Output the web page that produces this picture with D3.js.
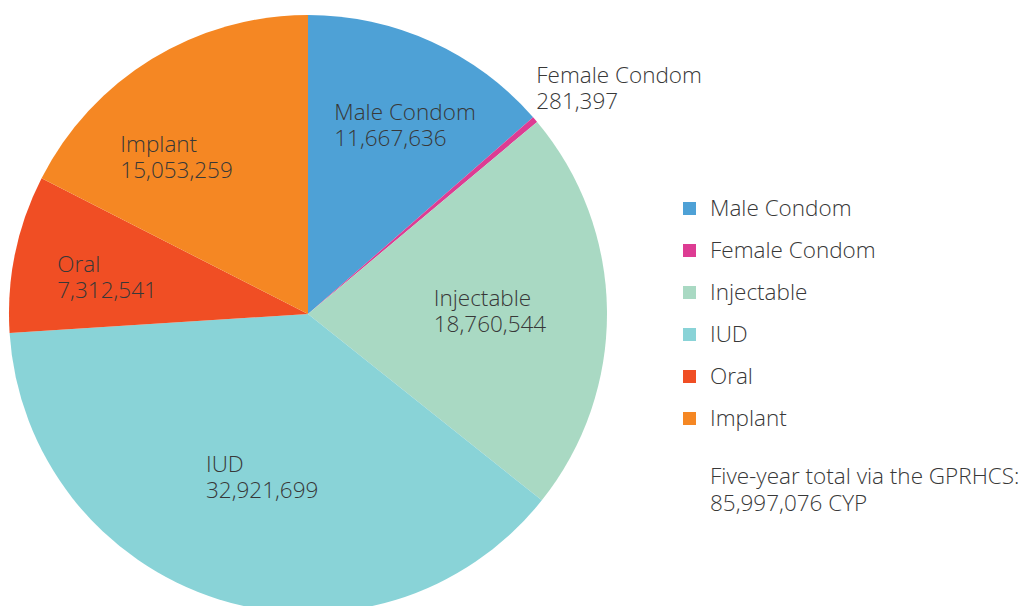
<!DOCTYPE html>
<html>
<head>
<meta charset="utf-8">
<script src="https://cdn.jsdelivr.net/npm/d3@7"></script>
<style>
  html, body { margin: 0; padding: 0; background: #fff; }
  svg text { font-family: "Open Sans", sans-serif; font-weight: 300; font-size: 22.5px; fill: #383838; }
</style>
</head>
<body>
<svg id="chart" width="1029" height="606"></svg>
<script>
const methods = ['Male Condom', 'Female Condom', 'Injectable', 'IUD', 'Oral', 'Implant'];
const cyp = [11667636, 281397, 18760544, 32921699, 7312541, 15053259];
const colorList = ['#4ea1d6', '#dd3c93', '#a9d9c3', '#89d3d7', '#f04e24', '#f58723'];
const totalNote = ['Five-year total via the GPRHCS:', '85,997,076 CYP'];

// hand nudges for label blocks, like the original layout
const labelNudge = [[16, -11], [0, 0], [-14, -1], [13, -24], [-9, 3], [-29, 10]];

const svg = d3.select('#chart');
const cx = 308, cy = 314, radius = 299;

const data = methods.map((m, i) => ({ label: m, value: cyp[i] }));
const color = d3.scaleOrdinal().domain(methods).range(colorList);
const fmt = d3.format(',');

const pie = d3.pie().sort(null).value(d => d.value);
const arcs = pie(data);
const arc = d3.arc().innerRadius(0).outerRadius(radius);
const labelArc = d3.arc().innerRadius(196).outerRadius(196);
const outerArc = d3.arc().innerRadius(radius + 12).outerRadius(radius + 12);

const g = svg.append('g').attr('transform', `translate(${cx},${cy})`);

// slices
g.selectAll('path')
  .data(arcs)
  .enter()
  .append('path')
  .attr('d', arc)
  .attr('fill', d => color(d.data.label));

// labels - small slices go outside
arcs.forEach((d, i) => {
  const small = (d.endAngle - d.startAngle) < 0.1;
  const t = g.append('text');
  t.append('tspan').text(d.data.label);
  t.append('tspan').text(fmt(d.data.value));
  const w = Math.max(...t.selectAll('tspan').nodes().map(n => n.getComputedTextLength()));
  let x, y;
  if (small) {
    const [px, py] = outerArc.centroid(d);
    x = px - 8; y = py - 29;
  } else {
    const [px, py] = labelArc.centroid(d);
    x = px + labelNudge[i][0] - w / 2;
    y = py + labelNudge[i][1] - 5;
  }
  t.selectAll('tspan')
    .attr('x', x)
    .attr('y', (_, k) => y + k * 26);
});

// legend
const legend = svg.append('g').attr('transform', 'translate(683,216)');
const item = legend.selectAll('g')
  .data(data)
  .enter()
  .append('g')
  .attr('transform', (_, i) => `translate(0,${i * 42})`);

item.append('rect')
  .attr('x', 0).attr('y', -14)
  .attr('width', 13).attr('height', 13)
  .attr('fill', d => color(d.label));

item.append('text')
  .attr('x', 27).attr('y', 0)
  .text(d => d.label);

legend.append('text')
  .selectAll('tspan')
  .data(totalNote)
  .enter()
  .append('tspan')
  .attr('x', 27)
  .attr('y', (_, i) => 268 + i * 27)
  .text(d => d);
</script>
</body>
</html>
